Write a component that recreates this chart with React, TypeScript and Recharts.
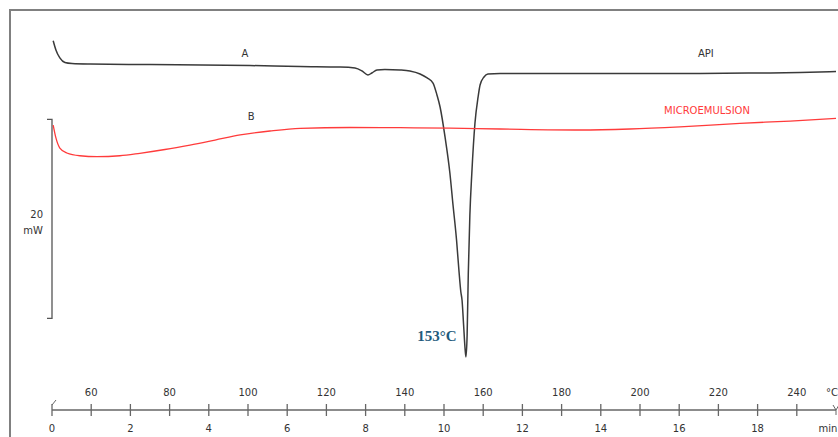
import React from "react";
import {
  LineChart,
  Line,
  XAxis,
  YAxis,
  ReferenceLine,
  ReferenceDot,
} from "recharts";

// time axis (min) and the matching temperature labels (°C)
const minuteTicks = [0, 1, 2, 3, 4, 5, 6, 7, 8, 9, 10, 11, 12, 13, 14, 15, 16, 17, 18, 19, 20];
const timeLabels = [0, 2, 4, 6, 8, 10, 12, 14, 16, 18];
const tempLabels = [60, 80, 100, 120, 140, 160, 180, 200, 220, 240];

// curve A: API (heat flow, mW, arbitrary offset)
const apiTime = [
  0.03, 0.1, 0.2, 0.33, 0.51, 0.97, 2.5, 5.05, 6.33, 7.35, 7.73, 7.91, 8.06, 8.16, 8.29,
  8.49, 8.88, 9.13, 9.39, 9.57, 9.72, 9.82, 9.9, 10.03, 10.15, 10.23, 10.32, 10.38, 10.43,
  10.46, 10.5, 10.54, 10.56, 10.59, 10.62, 10.66, 10.71, 10.79, 10.87, 10.92, 11.02, 11.12,
  11.43, 13.98, 16.53, 18.06, 19.08, 20.0,
];
const apiFlow = [
  36.91, 35.98, 35.18, 34.72, 34.62, 34.57, 34.52, 34.42, 34.32, 34.27, 34.17, 33.87, 33.47,
  33.67, 33.97, 34.02, 33.97, 33.87, 33.57, 33.17, 32.66, 31.46, 30.25, 27.14, 23.62, 20.4,
  16.88, 13.87, 11.66, 10.85, 8.34, 5.83, 5.13, 7.34, 13.57, 19.4, 23.62, 28.64, 31.26,
  32.46, 33.27, 33.57, 33.62, 33.62, 33.62, 33.67, 33.72, 33.82,
];

// curve B: microemulsion
const meTime = [
  0.03, 0.1, 0.2, 0.38, 0.71, 1.15, 1.73, 2.24, 2.88, 3.52, 4.16, 4.8, 5.56, 6.33, 7.6, 8.88,
  10.15, 11.43, 13.47, 14.74, 16.02, 17.55, 18.83, 20.0,
];
const meFlow = [
  28.44, 27.14, 26.13, 25.63, 25.35, 25.26, 25.35, 25.6, 25.98, 26.43, 26.93, 27.44, 27.84,
  28.11, 28.19, 28.17, 28.12, 28.04, 27.94, 28.04, 28.26, 28.61, 28.84, 29.1,
];

const apiData = apiTime.map((t, i) => ({ t, v: apiFlow[i] }));
const meData = meTime.map((t, i) => ({ t, v: meFlow[i] }));

const FONT = "DejaVu Sans";
const AXIS = "#666";

function AxisTick(props: any) {
  const { x, y, payload } = props;
  const m = payload.value;
  const tIdx = timeLabels.indexOf(m);
  const cIdx = (m - 1) / 2;
  return (
    <g>
      {m === 20 ? (
        <path d={`M${x - 3},${y - 5} L${x},${y} L${x + 3},${y - 5} M${x},${y} V${y + 5}`} stroke={AXIS} fill="none" />
      ) : (
        <line x1={x} y1={y - 6} x2={x} y2={y + 6} stroke={AXIS} strokeWidth={1.3} />
      )}
      {m === 0 && <line x1={x} y1={y - 5} x2={x + 4} y2={y - 10} stroke={AXIS} />}
      {tIdx >= 0 && (
        <text x={x} y={y + 22} textAnchor="middle" fontFamily={FONT} fontSize={10} fill="#333">
          {timeLabels[tIdx]}
        </text>
      )}
      {m % 2 === 1 && (
        <text x={x} y={y - 14} textAnchor="middle" fontFamily={FONT} fontSize={10} fill="#333">
          {tempLabels[cIdx]}
        </text>
      )}
      {m === 20 && (
        <>
          <text x={x - 4} y={y - 14} textAnchor="middle" fontFamily={FONT} fontSize={10} fill="#333">
            °C
          </text>
          <text x={x - 8} y={y + 22} textAnchor="middle" fontFamily={FONT} fontSize={10} fill="#333">
            min
          </text>
        </>
      )}
    </g>
  );
}

function ScaleBar(props: any) {
  const { x1, y1, y2 } = props;
  const top = Math.min(y1, y2);
  const bot = Math.max(y1, y2);
  const mid = (top + bot) / 2;
  return (
    <g>
      <path d={`M${x1 - 5},${top} H${x1} V${bot} H${x1 - 5}`} stroke="#555" strokeWidth={1.3} fill="none" />
      <text x={x1 - 9} y={mid - 1} textAnchor="end" fontFamily={FONT} fontSize={10} fill="#333">
        20
      </text>
      <text x={x1 - 9} y={mid + 15} textAnchor="end" fontFamily={FONT} fontSize={10} fill="#333">
        mW
      </text>
    </g>
  );
}

const textShape = (label: string, color: string, size = 10, bold = false, family = FONT) =>
  (p: any) => (
    <text
      x={p.cx}
      y={p.cy + size * 0.36}
      textAnchor="middle"
      fontFamily={family}
      fontSize={size}
      fontWeight={bold ? 700 : 400}
      fill={color}
    >
      {label}
    </text>
  );

export default function App() {
  return (
    <div style={{ position: "absolute", left: 0, top: 0, width: 838, height: 437, background: "#fff" }}>
      <div
        style={{
          position: "absolute",
          left: 9,
          top: 9,
          width: 829,
          height: 428,
          borderTop: "2px solid #808080",
          borderLeft: "2px solid #808080",
          boxSizing: "border-box",
        }}
      />
      <LineChart
        width={838}
        height={437}
        margin={{ top: 10, right: 2, bottom: 0, left: 52 }}
        style={{ position: "absolute", left: 0, top: 0 }}
      >
        <XAxis
          type="number"
          dataKey="t"
          domain={[0, 20]}
          ticks={minuteTicks}
          interval={0}
          height={27}
          tickSize={0}
          tickMargin={0}
          tickLine={false}
          axisLine={{ stroke: AXIS, strokeWidth: 1.5 }}
          tick={<AxisTick />}
        />
        <YAxis type="number" domain={[-0.2, 40]} hide allowDataOverflow />
        <ReferenceLine
          segment={[
            { x: 0, y: 9 },
            { x: 0, y: 29 },
          ]}
          ifOverflow="visible"
          shape={<ScaleBar />}
        />
        <Line
          data={apiData}
          dataKey="v"
          type="monotone"
          stroke="#3a3a3a"
          strokeWidth={1.5}
          dot={false}
          isAnimationActive={false}
        />
        <Line
          data={meData}
          dataKey="v"
          type="monotone"
          stroke="#ff3b3b"
          strokeWidth={1.3}
          dot={false}
          isAnimationActive={false}
        />
        <ReferenceDot x={4.92} y={35.68} r={0} ifOverflow="visible" shape={textShape("A", "#333")} />
        <ReferenceDot x={5.08} y={29.35} r={0} ifOverflow="visible" shape={textShape("B", "#333")} />
        <ReferenceDot x={16.68} y={35.68} r={0} ifOverflow="visible" shape={textShape("API", "#333")} />
        <ReferenceDot
          x={16.71}
          y={29.95}
          r={0}
          ifOverflow="visible"
          shape={textShape("MICROEMULSION", "#ff3b3b")}
        />
        <ReferenceDot
          x={9.82}
          y={7.24}
          r={0}
          ifOverflow="visible"
          shape={textShape("153°C", "#1f5b7d", 15, true, "Liberation Serif")}
        />
      </LineChart>
    </div>
  );
}
